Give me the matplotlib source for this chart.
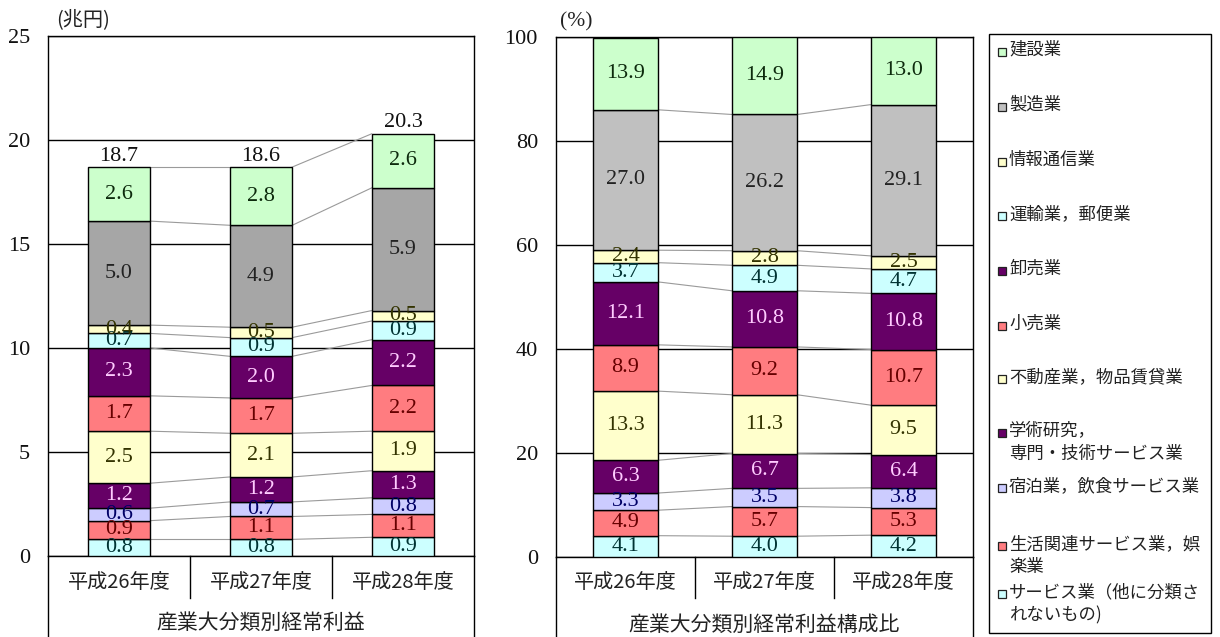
import matplotlib
matplotlib.use("Agg")
import matplotlib.pyplot as plt
import matplotlib.transforms as mtransforms
from matplotlib.patches import Rectangle
import numpy as np

# ---------------- data ----------------
years = ["平成26年度", "平成27年度", "平成28年度"]

industries = [
    "サービス業（他に分類されないもの）",
    "生活関連サービス業，娯楽業",
    "宿泊業，飲食サービス業",
    "学術研究，専門・技術サービス業",
    "不動産業，物品賃貸業",
    "小売業",
    "卸売業",
    "運輸業，郵便業",
    "情報通信業",
    "製造業",
    "建設業",
]

# ordinary profit (trillion yen), bottom -> top
profit = [
    [0.8, 0.8, 0.9],
    [0.9, 1.1, 1.1],
    [0.6, 0.7, 0.8],
    [1.2, 1.2, 1.3],
    [2.5, 2.1, 1.9],
    [1.7, 1.7, 2.2],
    [2.3, 2.0, 2.2],
    [0.7, 0.9, 0.9],
    [0.4, 0.5, 0.5],
    [5.0, 4.9, 5.9],
    [2.6, 2.8, 2.6],
]
profit_total = [18.7, 18.6, 20.3]

# composition ratio (%), bottom -> top
share = [
    [4.1, 4.0, 4.2],
    [4.9, 5.7, 5.3],
    [3.3, 3.5, 3.8],
    [6.3, 6.7, 6.4],
    [13.3, 11.3, 9.5],
    [8.9, 9.2, 10.7],
    [12.1, 10.8, 10.8],
    [3.7, 4.9, 4.7],
    [2.4, 2.8, 2.5],
    [27.0, 26.2, 29.1],
    [13.9, 14.9, 13.0],
]

left_ticks = [0, 5, 10, 15, 20, 25]
right_ticks = [0, 20, 40, 60, 80, 100]

legend_labels = [
    "建設業",
    "製造業",
    "情報通信業",
    "運輸業，郵便業",
    "卸売業",
    "小売業",
    "不動産業，物品賃貸業",
    "学術研究，\n専門・技術サービス業",
    "宿泊業，飲食サービス業",
    "生活関連サービス業，娯\n楽業",
    "サービス業（他に分類さ\nれないもの)",
]

# ---------------- styles ----------------
GREEN = "#CCFFCC"; YEL = "#FFFFCC"; CYAN = "#CCFFFF"; PUR = "#660066"
SAL = "#FF7C80"; LAV = "#CCCCFF"
fills_left = [CYAN, SAL, LAV, PUR, YEL, SAL, PUR, CYAN, YEL, "#A6A6A6", GREEN]
fills_right = [CYAN, SAL, LAV, PUR, YEL, SAL, PUR, CYAN, YEL, "#C0C0C0", GREEN]
txtcol = ["#003333", "#660000", "#000066", "#FFCCFF", "#333300", "#660000",
          "#FFCCFF", "#003333", "#333300", "#222222", "#0d2a0d"]
legend_fill = [GREEN, "#C0C0C0", YEL, CYAN, PUR, SAL, YEL, PUR, LAV, SAL, CYAN]

SERIF = ["Liberation Serif", "DejaVu Serif"]
JP = ["Noto Sans CJK JP", "DejaVu Sans"]
NUMSIZE = 16

W, H = 1220, 637
fig = plt.figure(figsize=(W / 100, H / 100), dpi=100)


def rect(l, t, r, b):
    return [l / W, 1 - b / H, (r - l) / W, (b - t) / H]


def draw_panel(ax, data, fills, width, ymax, ticks, title, px_h, bottom_px, sep_px, cat_px, title_px, totals=None):
    x = np.arange(len(years))
    bottom = np.zeros(len(years))
    for k, vals in enumerate(data):
        vals = np.array(vals, dtype=float)
        ax.bar(x, vals, width, bottom=bottom, color=fills[k], edgecolor="black",
               linewidth=1.0, zorder=3)
        top = bottom + vals
        for j in range(len(years)):
            ax.text(x[j], bottom[j] + vals[j] / 2, f"{vals[j]:.1f}", ha="center",
                    va="center", color=txtcol[k], fontsize=NUMSIZE, family=SERIF, zorder=4)
        for j in range(len(years) - 1):
            ax.plot([x[j] + width / 2, x[j + 1] - width / 2], [top[j], top[j + 1]],
                    color="#9A9A9A", lw=0.8, zorder=2)
        bottom = top
    if totals is not None:
        for j in range(len(years)):
            ax.annotate(f"{totals[j]:.1f}", (x[j], bottom[j]), xytext=(0, 1),
                        textcoords="offset points", ha="center", va="bottom",
                        fontsize=NUMSIZE, family=SERIF, color="#111111")
    ax.set_xlim(-0.5, len(years) - 0.5)
    ax.set_ylim(0, ymax)
    ax.set_yticks(ticks)
    ax.set_yticklabels([str(t) for t in ticks], family=SERIF, fontsize=16)
    ax.tick_params(axis="y", length=0, pad=13, colors="#111111")
    ax.set_xticks([])
    ax.yaxis.grid(True, color="black", lw=1.0)
    ax.set_axisbelow(True)
    for s in ax.spines.values():
        s.set_color("black"); s.set_linewidth(1.0)
    tr = mtransforms.blended_transform_factory(ax.transData, ax.transAxes)
    y_cat = -(cat_px - bottom_px) / px_h
    y_sep = -(sep_px - bottom_px) / px_h
    y_end = -(H - bottom_px) / px_h
    for j in range(len(years)):
        ax.text(x[j], y_cat, years[j], transform=tr, ha="center", va="center",
                fontsize=14.5, family=JP, color="#222222")
    for j in range(len(years) - 1):
        ax.plot([x[j] + 0.5] * 2, [0, y_sep], transform=tr, color="black", lw=1.0, clip_on=False)
    for xa in (0, 1):
        ax.plot([xa, xa], [0, y_end], transform=ax.transAxes, color="black", lw=1.0, clip_on=False)
    ax.text(0.5, -(title_px - bottom_px) / px_h, title, transform=ax.transAxes,
            ha="center", va="center", fontsize=15, family=JP, color="#222222")


ax1 = fig.add_axes(rect(48, 36, 474, 556))
draw_panel(ax1, profit, fills_left, 0.44, 25, left_ticks, "産業大分類別経常利益",
           520, 556, 598, 583, 623, totals=profit_total)
ax2 = fig.add_axes(rect(556, 37, 973, 557))
draw_panel(ax2, share, fills_right, 0.47, 100, right_ticks, "産業大分類別経常利益構成比",
           520, 557, 598, 583, 625)

fig.text(83 / W, 1 - 20 / H, "(兆円)", ha="center", va="center", fontsize=14.5,
         family=JP, color="#222222")
fig.text(576 / W, 1 - 22 / H, "(%)", ha="center", va="center", fontsize=15.5,
         family=SERIF, color="#222222")

# ---------------- legend ----------------
lax = fig.add_axes([0, 0, 1, 1], facecolor="none")
lax.set_xlim(0, W); lax.set_ylim(H, 0); lax.axis("off")
lax.add_patch(Rectangle((989, 34), 1211 - 989, 633 - 34, facecolor="white",
                        edgecolor="black", lw=1.0))
ypos = [52, 107, 162, 216, 271, 326, 379, 433, 488, 546, 594]
for lab, fc, y in zip(legend_labels, legend_fill, ypos):
    lax.add_patch(Rectangle((998, y - 4), 8, 8, facecolor=fc, edgecolor="#222222", lw=0.9))
    lax.text(1009, y - 11, lab, ha="left", va="top", fontsize=12.5, family=JP,
             color="#222222", linespacing=1.35)

fig.savefig("out.png", dpi=100)
